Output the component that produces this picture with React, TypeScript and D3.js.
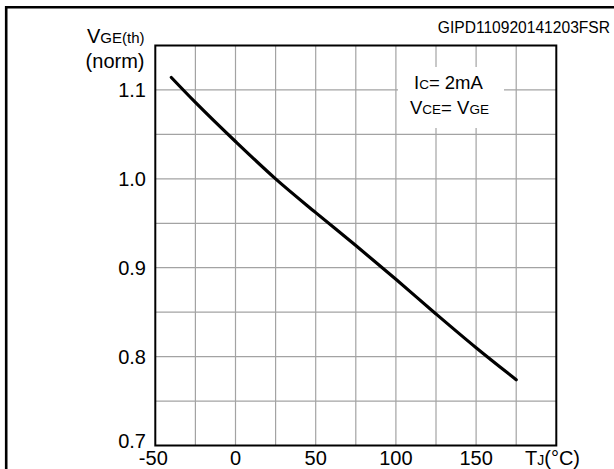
import { useEffect, useRef } from "react";
import * as d3 from "d3";

// junction temperature (°C) and normalized gate threshold voltage
const tempC = [-40, -25, 0, 25, 50, 75, 100, 125, 150, 175];
const vgeNorm = [1.114, 1.086, 1.042, 1.0, 0.962, 0.925, 0.887, 0.848, 0.81, 0.774];

const xTicks = [-50, 0, 50, 100, 150];
const yTicks = [0.7, 0.8, 0.9, 1.0, 1.1];
const xGrid = [-25, 0, 25, 50, 75, 100, 125, 150, 175];
const yGrid = [0.75, 0.8, 0.85, 0.9, 0.95, 1.0, 1.05, 1.1];

const W = 614;
const H = 469;
const FONT = "'Liberation Sans', Arial, Helvetica, sans-serif";

export default function App() {
  const ref = useRef<SVGSVGElement>(null);

  useEffect(() => {
    const svg = d3.select(ref.current);
    svg.selectAll("*").remove();

    const left = 155.3;
    const right = 556.3;
    const top = 45.5;
    const bottom = 445.5;

    const x = d3.scaleLinear().domain([-50, 200]).range([left, right]);
    const y = d3.scaleLinear().domain([0.7, 1.15]).range([bottom, top]);

    svg.append("rect").attr("width", W).attr("height", H).attr("fill", "#fff");

    // outer frame (runs off the right and bottom edges)
    svg
      .append("path")
      .attr("d", `M6.2,${H + 5}V7.3H${W + 5}`)
      .attr("fill", "none")
      .attr("stroke", "#000")
      .attr("stroke-width", 2.6);

    svg
      .append("text")
      .attr("x", 610)
      .attr("y", 33.3)
      .attr("text-anchor", "end")
      .attr("font-family", FONT)
      .attr("font-size", 15.6)
      .text("GIPD110920141203FSR");

    // grid
    const grid = svg.append("g").attr("stroke", "#a3a3a3").attr("stroke-width", 1.2);
    grid
      .selectAll("line.v")
      .data(xGrid)
      .enter()
      .append("line")
      .attr("class", "v")
      .attr("x1", (d) => x(d))
      .attr("x2", (d) => x(d))
      .attr("y1", top)
      .attr("y2", bottom);
    grid
      .selectAll("line.h")
      .data(yGrid)
      .enter()
      .append("line")
      .attr("class", "h")
      .attr("x1", left)
      .attr("x2", right)
      .attr("y1", (d) => y(d))
      .attr("y2", (d) => y(d));

    // legend background hides the grid behind the conditions text
    svg
      .append("rect")
      .attr("x", 398)
      .attr("y", 67)
      .attr("width", 106)
      .attr("height", 61)
      .attr("fill", "#fff");

    const cond = svg
      .append("g")
      .attr("font-family", FONT)
      .attr("fill", "#000");
    const l1 = cond.append("text").attr("x", 414).attr("y", 89.3).attr("font-size", 18.5);
    l1.append("tspan").text("I");
    l1.append("tspan").attr("font-size", 13.5).text("C");
    l1.append("tspan").text("= 2mA");
    const l2 = cond.append("text").attr("x", 410).attr("y", 114).attr("font-size", 18.5);
    l2.append("tspan").text("V");
    l2.append("tspan").attr("font-size", 13.5).text("CE");
    l2.append("tspan").text("= V");
    l2.append("tspan").attr("font-size", 13.5).text("GE");

    // curve
    const line = d3
      .line<number>()
      .x((d) => x(d))
      .y((_, i) => y(vgeNorm[i]))
      .curve(d3.curveCatmullRom);
    svg
      .append("path")
      .attr("d", line(tempC))
      .attr("fill", "none")
      .attr("stroke", "#000")
      .attr("stroke-width", 3.2)
      .attr("stroke-linecap", "round");

    // plot frame
    svg
      .append("rect")
      .attr("x", left)
      .attr("y", top)
      .attr("width", right - left)
      .attr("height", bottom - top)
      .attr("fill", "none")
      .attr("stroke", "#000")
      .attr("stroke-width", 2);

    // x tick labels
    svg
      .append("g")
      .attr("font-family", FONT)
      .attr("font-size", 20)
      .attr("text-anchor", "middle")
      .selectAll("text")
      .data(xTicks)
      .enter()
      .append("text")
      .attr("x", (d) => x(d) - (d === -50 ? 2 : 0))
      .attr("y", 465)
      .text((d) => String(d));

    // y tick labels
    svg
      .append("g")
      .attr("font-family", FONT)
      .attr("font-size", 20)
      .attr("text-anchor", "end")
      .selectAll("text")
      .data(yTicks)
      .enter()
      .append("text")
      .attr("x", 146)
      .attr("y", (d) => y(d) + (d === 0.7 ? 2.5 : 7))
      .text((d) => d3.format(".1f")(d));

    // axis titles
    const xt = svg
      .append("text")
      .attr("x", 525)
      .attr("y", 465)
      .attr("font-family", FONT)
      .attr("font-size", 20);
    xt.append("tspan").text("T");
    xt.append("tspan").attr("font-size", 14).text("J");
    xt.append("tspan").text("(°C)");

    const yt = svg
      .append("text")
      .attr("x", 144.5)
      .attr("y", 43)
      .attr("text-anchor", "end")
      .attr("font-family", FONT)
      .attr("font-size", 20);
    yt.append("tspan").text("V");
    yt.append("tspan").attr("font-size", 15).text("GE(th)");
    svg
      .append("text")
      .attr("x", 144.5)
      .attr("y", 68)
      .attr("text-anchor", "end")
      .attr("font-family", FONT)
      .attr("font-size", 20)
      .text("(norm)");
  }, []);

  return (
    <svg
      ref={ref}
      width={W}
      height={H}
      style={{ position: "absolute", left: 0, top: 0, display: "block" }}
    />
  );
}
